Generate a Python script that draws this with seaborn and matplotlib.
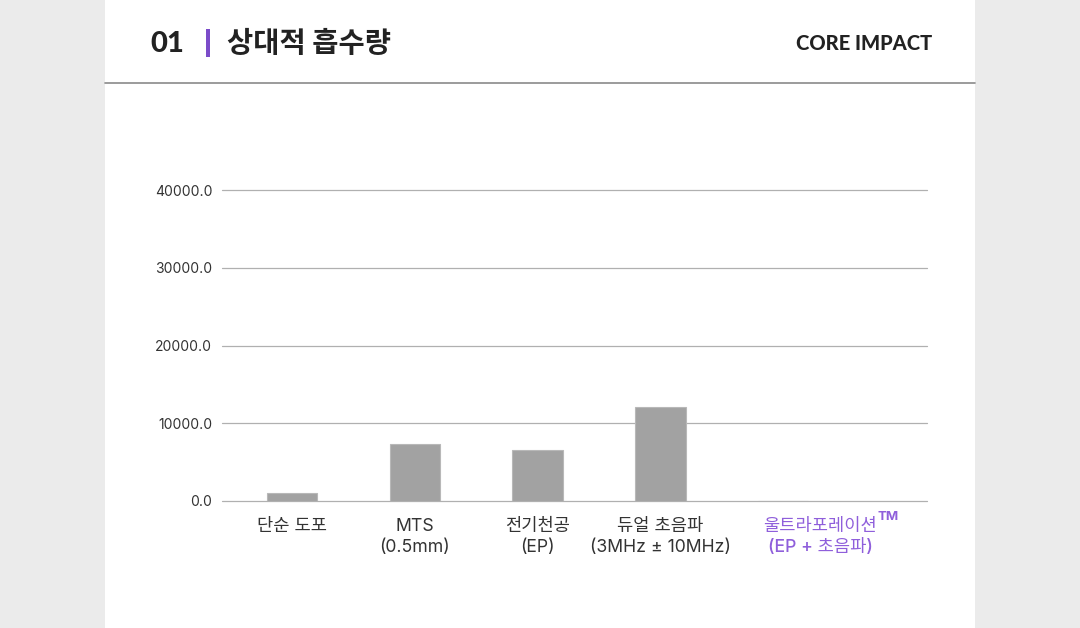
import matplotlib
matplotlib.use("Agg")
import matplotlib.pyplot as plt
import matplotlib.transforms as mtransforms
from matplotlib.patches import Rectangle
import seaborn as sns
import pandas as pd

# chart data
categories = ["단순 도포", "MTS\n(0.5mm)", "전기천공\n(EP)", "듀얼 초음파\n(3MHz ± 10MHz)", "울트라포레이션\n(EP + 초음파)"]
values = [1000, 7300, 6500, 12100, 0]
yticks = [0, 10000, 20000, 30000, 40000]
title_no = "01"
title = "상대적 흡수량"
tag = "CORE IMPACT"

sns.set_theme(style="white")
plt.rcParams['font.family'] = ['Noto Sans CJK KR', 'DejaVu Sans']

GREY = "#a2a2a2"
PURPLE = "#7b4cc9"
LABEL_PURPLE = "#8f5fdb"
TEXT = "#333333"

fig = plt.figure(figsize=(10.8, 6.28), dpi=100)
fig.patch.set_facecolor("#ebebeb")

# white panel behind everything
fig.patches.append(Rectangle((105 / 1080, 0), 870 / 1080, 1, transform=fig.transFigure,
                             facecolor="white", edgecolor="none", zorder=-5))
# header rule
fig.add_artist(plt.Line2D([105 / 1080, 975 / 1080], [1 - 83 / 628] * 2, transform=fig.transFigure,
                          color="#8a8a8a", lw=1.2, zorder=5))
# header texts
fig.text(150 / 1080, 1 - 44 / 628, title_no, fontsize=21, fontweight="black", color="#222222",
         family=["Lato", "DejaVu Sans"], va="center", ha="left")
fig.patches.append(Rectangle((206 / 1080, 1 - 57 / 628), 4 / 1080, 28 / 628, transform=fig.transFigure,
                             facecolor=PURPLE, edgecolor="none", zorder=5))
fig.text(227 / 1080, 1 - 44 / 628, title, fontsize=20.5, fontweight="bold", color="#222222",
         va="center", ha="left")
fig.text(932 / 1080, 1 - 43 / 628, tag, fontsize=14.5, fontweight="black", color="#222222",
         family=["Lato", "DejaVu Sans"], va="center", ha="right")

ax = fig.add_axes([222 / 1080, 127 / 628, 705 / 1080, 311 / 628])
ax.set_facecolor("white")
df = pd.DataFrame({"cat": categories, "val": values})
sns.barplot(data=df, x="cat", y="val", color=GREY, saturation=1, width=0.41,
            edgecolor="#b8b8b8", linewidth=0.8, ax=ax, zorder=3)

ax.set_ylim(0, 40000)
ax.set_xlim(-0.57, 5.17)
ax.set_yticks(yticks)
ax.set_yticklabels([f"{v:.1f}" for v in yticks], fontsize=10, color=TEXT,
                   family=["Inter", "DejaVu Sans"])
ax.yaxis.grid(True, color="#b0b0b0", lw=0.9)
for gl in ax.yaxis.get_gridlines():
    gl.set_clip_on(False)
ax.set_axisbelow(True)
ax.tick_params(axis="y", length=0, pad=7)
ax.tick_params(axis="x", length=0, pad=12)
ax.set_xlabel("")
ax.set_ylabel("")
for s in ax.spines.values():
    s.set_visible(False)

labels = ax.get_xticklabels()
for lab in labels:
    lab.set_fontsize(12.7)
    lab.set_color(TEXT)
    lab.set_linespacing(1.32)
    lab.set_family(["Inter", "Noto Sans CJK KR"])
last = labels[-1]
last.set_color(LABEL_PURPLE)
last.set_fontweight("medium")
last.set_transform(last.get_transform() + mtransforms.ScaledTranslation(0.37, 0, fig.dpi_scale_trans))

ax.annotate("TM", xy=(1, 1), xycoords=last, xytext=(0, 5), textcoords="offset points",
            fontsize=9.5, color=LABEL_PURPLE, fontweight="bold", ha="left", va="top",
            family=["Inter", "DejaVu Sans"], annotation_clip=False)

fig.savefig("out.png", dpi=100, facecolor=fig.get_facecolor())
